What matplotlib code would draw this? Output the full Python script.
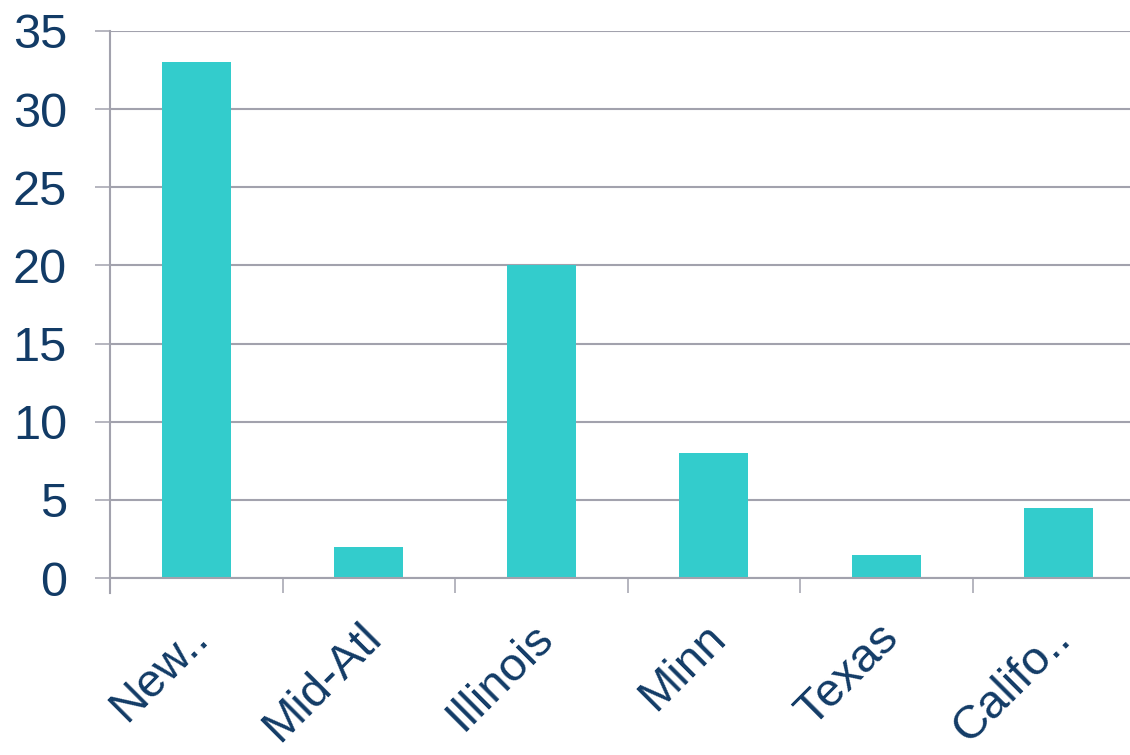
import matplotlib.pyplot as plt
import matplotlib.transforms as mtransforms
import numpy as np

plt.rcParams['font.family'] = ['Liberation Sans', 'DejaVu Sans']

regions = ['New..', 'Mid-Atl', 'Illinois', 'Minn', 'Texas', 'Califo..']
counts = [33, 2, 20, 8, 1.5, 4.5]

bar_color = '#33CCCC'
text_color = '#123B66'
grid_color = '#A2A2AD'

fig = plt.figure(figsize=(11.3, 7.55), dpi=100)
# axes run a little past the right edge, like the original slide
ax = fig.add_axes([110 / 1130, (755 - 578) / 755, 1035 / 1130, 547 / 755])

x = np.arange(len(regions))
ax.bar(x, counts, width=0.4, color=bar_color, zorder=3)

ax.set_xlim(-0.5, len(regions) - 0.5)
ax.set_ylim(0, 35)
ax.set_yticks(np.arange(0, 36, 5))
ax.yaxis.grid(True, color=grid_color, linewidth=1.5, zorder=0)

# category boundaries get the tick marks, labels sit in the middle
ax.set_xticks(np.arange(-0.5, len(regions), 1.0))
ax.set_xticklabels([])
ax.set_xticks(x, minor=True)
ax.set_xticklabels(regions, minor=True, rotation=45, ha='right', va='top',
                   rotation_mode='anchor', fontsize=34, color=text_color)
ax.tick_params(axis='x', which='major', length=11, width=1.1, color=grid_color, direction='out')
ax.tick_params(axis='x', which='minor', length=0, pad=27)
ax.tick_params(axis='y', length=11, width=1.1, color=grid_color, labelsize=35,
               labelcolor=text_color, pad=20)

# nudge the slanted labels a bit to the left
shift = mtransforms.ScaledTranslation(-10 / 100, 0, fig.dpi_scale_trans)
for lbl in ax.get_xticklabels(minor=True):
    lbl.set_transform(lbl.get_transform() + shift)

for side in ['top', 'right']:
    ax.spines[side].set_visible(False)
for side in ['left', 'bottom']:
    ax.spines[side].set_color(grid_color)
    ax.spines[side].set_linewidth(1.5)
    ax.spines[side].set_zorder(4)
ax.spines['left'].set_bounds(-15 / 15.63, 35)

plt.savefig('out.png', dpi=100)
